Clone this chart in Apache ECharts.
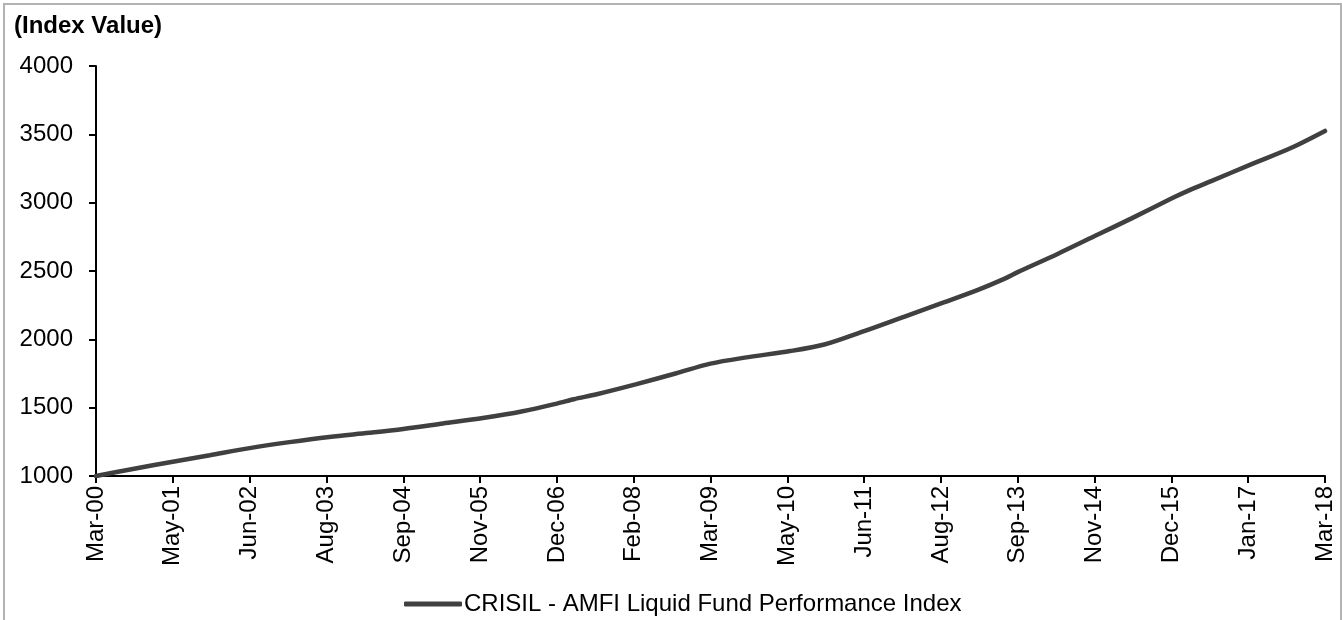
<!DOCTYPE html>
<html>
<head>
<meta charset="utf-8">
<script src="https://cdn.jsdelivr.net/npm/echarts@6/dist/echarts.min.js"></script>
<style>
html,body{margin:0;padding:0;background:#fff;}
#chart{width:1342px;height:620px;}
</style>
</head>
<body>
<div id="chart"></div>
<script>
// Tick labels on the time axis (one every 13.5 months from Mar-00)
var tickLabels = ['Mar-00','May-01','Jun-02','Aug-03','Sep-04','Nov-05','Dec-06','Feb-08','Mar-09','May-10','Jun-11','Aug-12','Sep-13','Nov-14','Dec-15','Jan-17','Mar-18'];
// Months since Mar-00 for each sampled point
var monthsSinceStart = [0,6,14,20,27,34,41,48,54,61,68,75,81,84,88,95,102,108,114,122,128,135,142,149,155,160,162,169,176,182,189,192,196,203,210,216];
// Index values
var indexValues = [1000,1048,1108,1152,1204,1248,1286,1316,1344,1384,1424,1474,1530,1562,1598,1672,1752,1822,1866,1914,1962,2060,2165,2270,2362,2450,2492,2625,2765,2885,3030,3088,3158,3280,3400,3525];
var seriesName = 'CRISIL - AMFI Liquid Fund Performance Index';

var FONT = 'Liberation Sans, Arial, sans-serif';
var points = monthsSinceStart.map(function(m, i){ return [m, indexValues[i]]; });

var chart = echarts.init(document.getElementById('chart'), null, {renderer:'canvas'});
chart.setOption({
  animation: false,
  backgroundColor: '#fff',
  graphic: [
    {type:'rect', shape:{x:4, y:4, width:1337, height:700}, style:{fill:'none', stroke:'#b3b3b3', lineWidth:2}, silent:true, z:-1},
    {type:'text', left:14, top:14, style:{text:'(Index Value)', font:'bold 24px ' + FONT, fill:'#000'}}
  ],
  grid: {left:96, right:17, top:66, bottom:144, containLabel:false},
  legend: {
    left: 399, top: 587,
    icon: 'roundRect', itemWidth: 58, itemHeight: 5, itemGap: 10,
    textStyle: {fontFamily: FONT, fontSize: 24, color:'#000', padding:[0,0,0,-3]},
    data: [seriesName]
  },
  xAxis: {
    type: 'value', min: 0, max: 216, interval: 13.5,
    axisLine: {show:true, lineStyle:{color:'#000', width:2}},
    axisTick: {show:true, inside:false, length:7, lineStyle:{color:'#000', width:2}},
    splitLine: {show:false},
    axisLabel: {
      rotate: 90, margin: 10, fontFamily: FONT, fontSize: 24, color:'#000',
      formatter: function(v){ var i = Math.round(v/13.5); return tickLabels[i] || ''; }
    }
  },
  yAxis: {
    type: 'value', min: 1000, max: 4000, interval: 500,
    axisLine: {show:true, lineStyle:{color:'#000', width:2}},
    axisTick: {show:true, inside:false, length:7, lineStyle:{color:'#000', width:2}},
    splitLine: {show:false},
    axisLabel: {margin: 23, fontFamily: FONT, fontSize: 24, color:'#000', formatter: function(v){ return String(v); }}
  },
  series: [{
    name: seriesName,
    type: 'line',
    data: points,
    smooth: 0.3,
    showSymbol: false,
    symbol: 'none',
    color: '#404040',
    lineStyle: {color:'#404040', width:4.5, cap:'round'}
  }]
});
</script>
</body>
</html>
